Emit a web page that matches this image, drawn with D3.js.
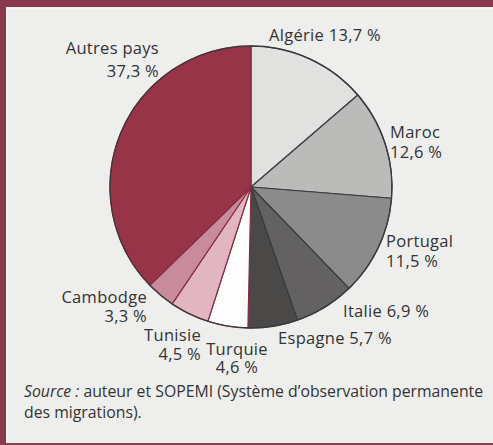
<!DOCTYPE html>
<html>
<head>
<meta charset="utf-8">
<script src="https://cdn.jsdelivr.net/npm/d3@7"></script>
<style>
  body { margin: 0; background: #fff; }
  svg text { font-family: "Open Sans", sans-serif; fill: #333; }
</style>
</head>
<body>
<div id="chart-area"></div>
<script>
/*
*    pie chart - origine des immigrés
*/

var countries = ["Algérie", "Maroc", "Portugal", "Italie", "Espagne", "Turquie", "Tunisie", "Cambodge", "Autres pays"];
var shares = [13.7, 12.6, 11.5, 6.9, 5.7, 4.6, 4.5, 3.3, 37.3];
var shareLabels = ["13,7 %", "12,6 %", "11,5 %", "6,9 %", "5,7 %", "4,6 %", "4,5 %", "3,3 %", "37,3 %"];

// styling, kept apart from the data
var fills = ["#e1e1e0", "#bbbbba", "#8c8b8b", "#636161", "#4b4848", "#fdfdfd", "#e2b6c1", "#c78b9b", "#983447"];
var strokes = ["#3a3a3a", "#3a3a3a", "#3a3a3a", "#3a3a3a", "#3a3a3a", "#8a2c42", "#8a2c42", "#8a2c42", "#8a2c42"];

// label placement: x, first baseline, line gap, anchor, one line or two
var labelPos = [
    { x: 269, y: 41, gap: 0, anchor: "start", oneLine: true },
    { x: 390, y: 138, gap: 20, anchor: "start" },
    { x: 386, y: 247, gap: 20, anchor: "start" },
    { x: 343, y: 317, gap: 0, anchor: "start", oneLine: true },
    { x: 278, y: 344, gap: 0, anchor: "start", oneLine: true },
    { x: 237, y: 355, gap: 18, anchor: "middle" },
    { x: 201, y: 341, gap: 19, anchor: "end" },
    { x: 147, y: 303, gap: 19, anchor: "end" },
    { x: 159, y: 54, gap: 23, anchor: "end" }
];

var w = 493;
var h = 445;
var cx = 251, cy = 187, r = 141;

var svg = d3.select("#chart-area").append("svg")
    .attr("width", w)
    .attr("height", h);

// frame
svg.append("rect")
    .attr("width", w).attr("height", h)
    .attr("fill", "#8b3a4e");
svg.append("rect")
    .attr("x", 6).attr("y", 7)
    .attr("width", w - 6).attr("height", h - 9)
    .attr("fill", "#f7f4f2");
svg.append("rect")
    .attr("x", 8).attr("y", 9)
    .attr("width", w - 8).attr("height", h - 12)
    .attr("fill", "#eeeeed");

var group = svg.append("g")
    .attr("transform", "translate(" + cx + ", " + cy + ")");

var data = countries.map((c, i) => { return { country: c, value: shares[i], i: i }; });

var pie = d3.pie()
    .sort(null)
    .value((d) => { return d.value; });

var arc = d3.arc()
    .innerRadius(0)
    .outerRadius(r);

group.selectAll("path")
    .data(pie(data))
    .enter()
    .append("path")
        .attr("d", arc)
        .attr("fill", (d) => { return fills[d.data.i]; })
        .attr("stroke", (d) => { return strokes[d.data.i]; })
        .attr("stroke-width", 1.2)
        .attr("stroke-linejoin", "round");

// outer rim
group.append("circle")
    .attr("r", r)
    .attr("fill", "none")
    .attr("stroke", "#3a3a3a")
    .attr("stroke-width", 1.3);

// labels, one text element per line
var lines = [];
data.forEach((d) => {
    var p = labelPos[d.i];
    if (p.oneLine) {
        lines.push({ x: p.x, y: p.y, anchor: p.anchor, text: d.country + " " + shareLabels[d.i] });
    } else {
        lines.push({ x: p.x, y: p.y, anchor: p.anchor, text: d.country });
        lines.push({ x: p.x, y: p.y + p.gap, anchor: p.anchor, text: shareLabels[d.i] });
    }
});

svg.selectAll("text.label")
    .data(lines)
    .enter()
    .append("text")
        .attr("class", "label")
        .attr("x", (d) => { return d.x; })
        .attr("y", (d) => { return d.y; })
        .attr("font-size", "16.5px")
        .attr("letter-spacing", "0.3px")
        .attr("text-anchor", (d) => { return d.anchor; })
        .text((d) => { return d.text; });

// source note
var note = svg.append("text")
    .attr("x", 24)
    .attr("y", 397)
    .attr("font-size", "15.8px");
note.append("tspan").attr("font-style", "italic").text("Source :");
note.append("tspan").text(" auteur et SOPEMI (Système d’observation permanente");
svg.append("text")
    .attr("x", 24)
    .attr("y", 418)
    .attr("font-size", "15.8px")
    .text("des migrations).");
</script>
</body>
</html>
